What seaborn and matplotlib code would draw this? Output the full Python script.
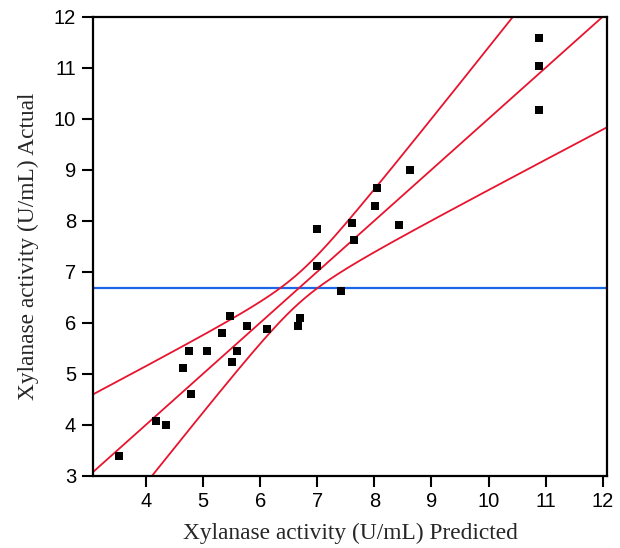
import numpy as np
import pandas as pd
import matplotlib
matplotlib.use("Agg")
import matplotlib.pyplot as plt
import seaborn as sns

# Values (Actual by Predicted plot)
predicted = [3.52, 4.175, 4.345, 4.653, 4.753, 4.788, 5.063, 5.336, 5.471, 5.506,
             5.599, 5.774, 6.114, 6.668, 6.697, 7.00, 7.00, 7.41, 7.643, 7.614,
             8.017, 8.052, 8.432, 8.63, 10.884, 10.884, 10.884]
actual = [3.39, 4.07, 3.99, 5.11, 5.445, 4.61, 5.445, 5.79, 6.13, 5.22,
          5.445, 5.94, 5.87, 5.94, 6.10, 7.12, 7.83, 6.63, 7.62, 7.955,
          8.29, 8.65, 7.91, 8.99, 11.58, 11.04, 10.17]
mean_actual = 6.69          # horizontal mean line
model_terms = 14            # quadratic model, 4 factors
t_crit = 2.179              # t(0.025, 12)
f_crit = 2.64               # F(0.05; 14, 12)
x_ticks = [4, 5, 6, 7, 8, 9, 10, 11, 12]
y_ticks = [3, 4, 5, 6, 7, 8, 9, 10, 11, 12]
x_label = "Xylanase activity (U/mL) Predicted"
y_label = "Xylanase activity (U/mL) Actual"

df = pd.DataFrame({"Predicted": predicted, "Actual": actual})
n = len(df)
dfe = n - model_terms - 1
resid = df["Actual"] - df["Predicted"]
s2 = float((resid ** 2).sum() / dfe)
ssr = float(((df["Predicted"] - mean_actual) ** 2).sum())
F = (ssr / model_terms) / s2

xlim = (3.066, 12.08)
ylim = (3.0, 12.0)
grid = np.linspace(xlim[0], xlim[1], 500)
z = grid - mean_actual
half = np.sqrt(s2 * t_crit ** 2 / n + (f_crit / F) * z ** 2)
lines = pd.DataFrame({"x": grid, "fit": grid, "upper": grid + half, "lower": grid - half})

sns.set_style("ticks")
plt.rcParams["font.family"] = ["Liberation Sans", "DejaVu Sans"]

fig = plt.figure(figsize=(6.2, 5.48), dpi=100)
ax = fig.add_axes([92.7 / 620, 1 - 475.7 / 548, (607.3 - 92.7) / 620, (475.7 - 16.7) / 548])

red = "#e8142e"
for col in ["fit", "upper", "lower"]:
    sns.lineplot(data=lines, x="x", y=col, ax=ax, color=red, linewidth=1.3, zorder=2)
ax.axhline(mean_actual, color="#1a66e6", linewidth=1.6, zorder=1)
sns.scatterplot(data=df, x="Predicted", y="Actual", ax=ax, marker="s", s=40,
                color="black", edgecolor="black", linewidth=0, zorder=3)

ax.set_xlim(*xlim)
ax.set_ylim(*ylim)
ax.set_xticks(x_ticks)
ax.set_yticks(y_ticks)
ax.tick_params(axis="both", direction="out", length=8, width=1.5, labelsize=14.5,
               pad=4, colors="black")
for sp in ax.spines.values():
    sp.set_visible(True)
    sp.set_linewidth(1.6)
    sp.set_color("black")

serif = ["Liberation Serif", "DejaVu Serif"]
ax.set_xlabel(x_label, family=serif, fontsize=16.8, labelpad=8)
ax.set_ylabel(y_label, family=serif, fontsize=16.8, labelpad=11)

fig.savefig("out.png", dpi=100)
